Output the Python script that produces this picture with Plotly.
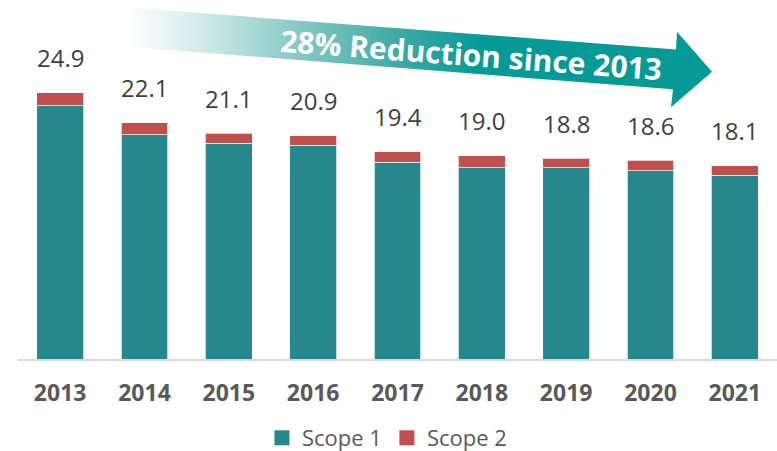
import plotly.graph_objects as go

years = ["2013", "2014", "2015", "2016", "2017", "2018", "2019", "2020", "2021"]
scope1 = [23.7, 21.0, 20.2, 20.0, 18.4, 17.9, 17.9, 17.6, 17.2]
scope2 = [1.2, 1.1, 0.9, 0.9, 1.0, 1.1, 0.9, 1.0, 0.9]
totals = [24.9, 22.1, 21.1, 20.9, 19.4, 19.0, 18.8, 18.6, 18.1]
series_names = ["Scope 1", "Scope 2"]
arrow_text = "28% Reduction since 2013"

TEAL = "#26878D"
RED = "#C0504D"
ARROW = "#069A97"
FONT = "Open Sans"

W, H = 777, 451
MB = 48                # bottom margin reserved for the legend
PH = H - MB            # plot-area height in pixels (top of plot area = pixel 0)

fig = go.Figure()

fig.add_trace(go.Bar(x=years, y=scope1, name=series_names[0], showlegend=False,
                     marker=dict(color=TEAL, line=dict(color="rgba(255,255,255,0.7)", width=1))))
fig.add_trace(go.Bar(x=years, y=scope2, name=series_names[1], showlegend=False,
                     marker=dict(color=RED, line=dict(color="rgba(255,255,255,0.7)", width=1))))

# legend entries with larger square swatches
fig.add_trace(go.Scatter(x=[years[0]], y=[None], mode="markers", name=series_names[0],
                         marker=dict(symbol="square", size=15, color=TEAL)))
fig.add_trace(go.Scatter(x=[years[0]], y=[None], mode="markers", name=series_names[1],
                         marker=dict(symbol="square", size=15, color=RED)))

# decorative gradient arrow on an overlay pixel-coordinate subplot
ax = [128, 676, 677, 712, 671, 673, 127, 128]
ay = [7.5, 49.5, 31.7, 71.7, 107.3, 89.3, 46.7, 7.5]
fig.add_trace(go.Scatter(
    x=ax, y=ay, xaxis="x2", yaxis="y2", mode="lines", fill="toself",
    line=dict(width=0, color=ARROW), hoverinfo="skip", showlegend=False,
    fillgradient=dict(type="horizontal", start=128, stop=712,
                      colorscale=[[0, "rgba(255,255,255,1)"], [0.12, "#D3ECEA"],
                                  [0.29, "#86C9C5"], [0.47, "#3AA9A5"],
                                  [0.6, ARROW], [1, ARROW]])))

annotations = []
for i, t in enumerate(totals):
    annotations.append(dict(x=i, y=t, xref="x", yref="y", text=f"{t:.1f}", showarrow=False,
                            yshift=35, font=dict(family=FONT, size=24, color="#404040")))
annotations.append(dict(x=471, y=54, xref="x2", yref="y2", text=f"<b>{arrow_text}</b>",
                        showarrow=False, textangle=4.3,
                        font=dict(family=FONT, size=30, color="white")))

base_px = 359.0
px_per_unit = 10.69
ymax = base_px / px_per_unit

fig.update_layout(
    width=W, height=H,
    margin=dict(l=0, r=0, t=0, b=MB, autoexpand=False),
    paper_bgcolor="white", plot_bgcolor="rgba(0,0,0,0)",
    barmode="stack", bargap=0.443,
    font=dict(family=FONT, color="#595959"),
    xaxis=dict(type="category", categoryorder="array", categoryarray=years,
               range=[-0.5, len(years) - 0.5], automargin=False,
               domain=[18 / W, 1], showgrid=False, zeroline=False, showline=True,
               linecolor="#D9D9D9", linewidth=2, ticks="", ticklabelstandoff=12,
               tickfont=dict(family=FONT, size=23, color="#595959", weight="bold")),
    yaxis=dict(domain=[(PH - base_px) / PH, 1], range=[0, ymax], visible=False),
    xaxis2=dict(domain=[0, 1], range=[0, W], visible=False, anchor="y2", fixedrange=True),
    yaxis2=dict(domain=[0, 1], range=[PH, 0], visible=False, anchor="x2", fixedrange=True),
    legend=dict(orientation="h", traceorder="normal", x=0.498, xanchor="center",
                yref="container", y=(H - 438) / H, yanchor="middle",
                font=dict(family=FONT, size=22, color="#595959"), itemwidth=30,
                bgcolor="rgba(0,0,0,0)"),
    annotations=annotations,
    showlegend=True,
)

fig.write_html("out.html", config={"displayModeBar": False},
               post_script="document.body.style.margin='0';")
